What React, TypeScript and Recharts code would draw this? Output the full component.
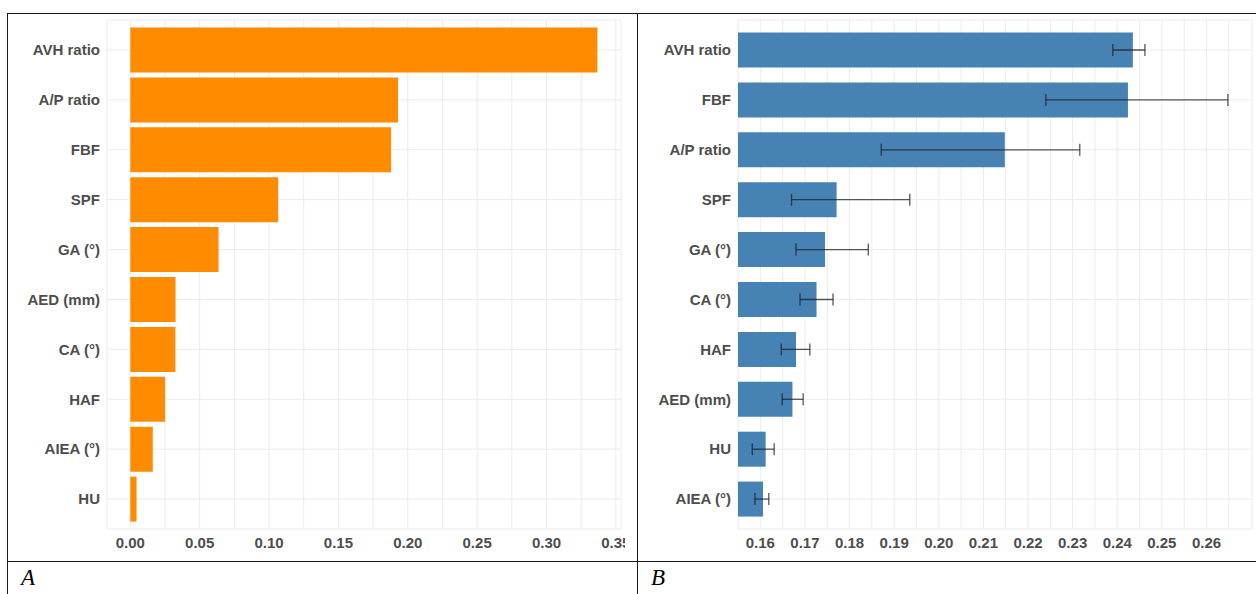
import { BarChart, Bar, XAxis, YAxis, CartesianGrid, ErrorBar } from 'recharts';

// Panel A: feature importance
const importanceFeatures = ['AVH ratio', 'A/P ratio', 'FBF', 'SPF', 'GA (°)', 'AED (mm)', 'CA (°)', 'HAF', 'AIEA (°)', 'HU'];
const importanceValues = [0.3367, 0.193, 0.188, 0.1066, 0.0636, 0.0326, 0.0325, 0.0251, 0.0162, 0.0045];
const importanceGridTicks = [0, 0.025, 0.05, 0.075, 0.1, 0.125, 0.15, 0.175, 0.2, 0.225, 0.25, 0.275, 0.3, 0.325, 0.35];
const importanceTickLabels = [0, 0.05, 0.1, 0.15, 0.2, 0.25, 0.3, 0.35];

// Panel B: mean importance with interval
const intervalFeatures = ['AVH ratio', 'FBF', 'A/P ratio', 'SPF', 'GA (°)', 'CA (°)', 'HAF', 'AED (mm)', 'HU', 'AIEA (°)'];
const intervalMeans = [0.2435, 0.2424, 0.2148, 0.1771, 0.1745, 0.1726, 0.168, 0.1672, 0.1612, 0.1606];
const intervalLower = [0.239, 0.224, 0.1871, 0.167, 0.168, 0.1689, 0.1647, 0.1649, 0.1582, 0.1588];
const intervalUpper = [0.2462, 0.2648, 0.2316, 0.1935, 0.1842, 0.1763, 0.1711, 0.1696, 0.1631, 0.1619];
const intervalGridTicks = [0.155, 0.16, 0.165, 0.17, 0.175, 0.18, 0.185, 0.19, 0.195, 0.2, 0.205, 0.21, 0.215, 0.22, 0.225, 0.23, 0.235, 0.24, 0.245, 0.25, 0.255, 0.26, 0.265];
const intervalTickLabels = [0.16, 0.17, 0.18, 0.19, 0.2, 0.21, 0.22, 0.23, 0.24, 0.25, 0.26];

const importanceData = importanceFeatures.map((feature, i) => ({ feature, value: importanceValues[i] }));
const intervalData = intervalFeatures.map((feature, i) => ({
  feature,
  mean: intervalMeans[i],
  err: [intervalMeans[i] - intervalLower[i], intervalUpper[i] - intervalMeans[i]],
}));

const tickStyle = {
  fill: '#4d4d4d',
  fontSize: 15,
  fontWeight: 'bold',
  fontFamily: '"Liberation Sans", Arial, sans-serif',
};

const lineColor = '#1a1a1a';

function PanelLabel({ text, left }: { text: string; left: number }) {
  return (
    <div
      style={{
        position: 'absolute',
        left,
        top: 565,
        fontFamily: '"Liberation Serif", "Times New Roman", serif',
        fontStyle: 'italic',
        fontSize: 23,
        color: '#000',
        lineHeight: '25px',
      }}
    >
      {text}
    </div>
  );
}

export default function App() {
  return (
    <div style={{ position: 'absolute', left: 0, top: 0, width: 1256, height: 594, background: '#fff', overflow: 'hidden' }}>
      {/* panel A image is cropped just past the plot's right edge */}
      <div style={{ position: 'absolute', left: 0, top: 0, width: 625, height: 560, overflow: 'hidden' }}>
        <BarChart
          width={640}
          height={560}
          data={importanceData}
          layout="vertical"
          margin={{ top: 20, right: 19, bottom: 1, left: 0 }}
          barCategoryGap="5%"
        >
          <CartesianGrid stroke="#ebebeb" />
          <XAxis
            type="number"
            domain={[-0.0168, 0.3537]}
            ticks={importanceGridTicks}
            interval={0}
            tickFormatter={(v: number) => (importanceTickLabels.includes(v) ? v.toFixed(2) : '')}
            axisLine={false}
            tickLine={false}
            tickSize={0}
            tickMargin={8}
            height={30}
            tick={tickStyle}
          />
          <YAxis
            type="category"
            dataKey="feature"
            width={107}
            interval={0}
            axisLine={false}
            tickLine={false}
            tickSize={0}
            tickMargin={7}
            padding={{ top: 5, bottom: 5 }}
            tick={tickStyle}
          />
          <Bar dataKey="value" fill="#ff8c00" isAnimationActive={false} />
        </BarChart>
      </div>

      <div style={{ position: 'absolute', left: 638, top: 0, width: 618, height: 560 }}>
        <BarChart
          width={618}
          height={560}
          data={intervalData}
          layout="vertical"
          margin={{ top: 20, right: 4, bottom: 1, left: 0 }}
          barCategoryGap="15%"
        >
          <CartesianGrid stroke="#ebebeb" />
          <XAxis
            type="number"
            domain={[0.155, 0.2702]}
            allowDataOverflow
            ticks={intervalGridTicks}
            interval={0}
            tickFormatter={(v: number) => (intervalTickLabels.includes(v) ? v.toFixed(2) : '')}
            axisLine={false}
            tickLine={false}
            tickSize={0}
            tickMargin={8}
            height={30}
            tick={tickStyle}
          />
          <YAxis
            type="category"
            dataKey="feature"
            width={100}
            interval={0}
            axisLine={false}
            tickLine={false}
            tickSize={0}
            tickMargin={7}
            padding={{ top: 5, bottom: 5 }}
            tick={tickStyle}
          />
          <Bar dataKey="mean" fill="#4682b4" isAnimationActive={false}>
            <ErrorBar dataKey="err" direction="x" width={6} stroke="#1f1f1f" strokeOpacity={0.75} strokeWidth={1.3} />
          </Bar>
        </BarChart>
      </div>

      {/* table rules */}
      <div style={{ position: 'absolute', left: 7, top: 13, width: 1249, height: 1, background: lineColor }} />
      <div style={{ position: 'absolute', left: 7, top: 13, width: 1, height: 581, background: lineColor }} />
      <div style={{ position: 'absolute', left: 637, top: 13, width: 1, height: 581, background: lineColor }} />
      <div style={{ position: 'absolute', left: 7, top: 561, width: 1249, height: 1, background: lineColor }} />

      <PanelLabel text="A" left={21} />
      <PanelLabel text="B" left={651} />
    </div>
  );
}
